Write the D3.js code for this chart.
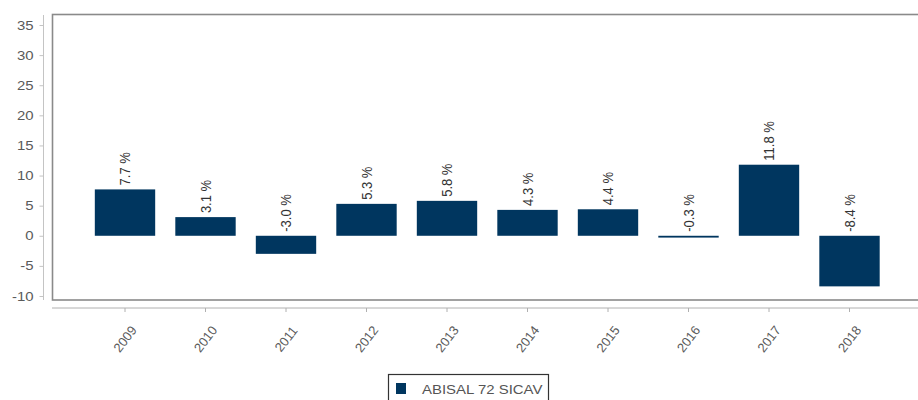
<!DOCTYPE html>
<html><head><meta charset="utf-8">
<script src="https://cdn.jsdelivr.net/npm/d3@7"></script>
<style>body{margin:0;background:#fff}svg{display:block;font-family:"Liberation Sans",Arial,sans-serif}</style>
</head><body><svg id="c" width="918" height="400"></svg>
<script>
const years = ["2009","2010","2011","2012","2013","2014","2015","2016","2017","2018"];
const returns = [7.7, 3.1, -3.0, 5.3, 5.8, 4.3, 4.4, -0.3, 11.8, -8.4];
const yTicks = [-10, -5, 0, 5, 10, 15, 20, 25, 30, 35];
const seriesName = "ABISAL 72 SICAV";

const svg = d3.select("#c");
const x = d3.scaleBand().domain(years).range([84.75, 889.75]).paddingInner(0.25).paddingOuter(0.125);
const y = d3.scaleLinear().domain([-10, 35]).range([296, 25]);
const color = "#00365f";
const sx = 1.15; // horizontal stretch of glyphs seen in the reference

// frame
svg.append("rect").attr("x", 52.5).attr("y", 14.5).attr("width", 880).attr("height", 285.5)
  .attr("fill", "none").attr("stroke", "#8a8a8a").attr("stroke-width", 1.6);

// y axis
const ya = svg.append("g").attr("transform", "translate(43.5,0)")
  .call(d3.axisLeft(y).tickValues(yTicks).tickSize(4).tickFormat(""));
ya.select(".domain").attr("stroke", "#c4c4c4").attr("d", "M0,15V300");
ya.selectAll(".tick line").attr("stroke", "#c4c4c4");
svg.append("g").selectAll("text").data(yTicks).join("text")
  .attr("transform", d => `translate(33.5,${y(d)}) scale(${sx},1)`)
  .attr("text-anchor", "end").attr("dy", "0.35em")
  .attr("font-size", 13).attr("fill", "#5a5a5a").text(d => String(d));

// x axis
const xa = svg.append("g").attr("transform", "translate(0,308)")
  .call(d3.axisBottom(x).tickSize(4).tickFormat(""));
xa.select(".domain").attr("stroke", "#b0b0b0").attr("d", "M52,0H918");
xa.selectAll(".tick line").attr("stroke", "#b0b0b0");
svg.append("g").selectAll("text").data(years).join("text")
  .attr("transform", d => `translate(${x(d) + x.bandwidth()/2},339) rotate(-52)`)
  .attr("text-anchor", "middle").attr("dy", "0.35em")
  .attr("font-size", 13).attr("fill", "#5a5a5a").text(d => d);

// bars
const data = years.map((d, i) => ({year: d, v: returns[i]}));
svg.append("g").selectAll("rect").data(data).join("rect")
  .attr("x", d => x(d.year)).attr("width", x.bandwidth())
  .attr("y", d => y(Math.max(0, d.v)))
  .attr("height", d => Math.abs(y(d.v) - y(0)))
  .attr("fill", color);

// value labels
svg.append("g").selectAll("text").data(data).join("text")
  .attr("transform", d => `translate(${x(d.year) + x.bandwidth()/2},${y(Math.max(0, d.v)) - 4}) rotate(-90) scale(1,${sx})`)
  .attr("text-anchor", "start").attr("dy", "0.35em")
  .attr("font-size", 13).attr("fill", "#333")
  .text(d => d.v.toFixed(1) + " %");

// legend
const lg = svg.append("g");
lg.append("rect").attr("x", 388.5).attr("y", 374.5).attr("width", 160).attr("height", 40)
  .attr("fill", "#fff").attr("stroke", "#333").attr("stroke-width", 1.2);
lg.append("rect").attr("x", 396).attr("y", 383).attr("width", 10).attr("height", 11).attr("fill", color);
lg.append("text").attr("transform", `translate(422,389.5) scale(${sx},1)`).attr("dy", "0.35em")
  .attr("font-size", 13).attr("fill", "#555").text(seriesName);
</script></body></html>
